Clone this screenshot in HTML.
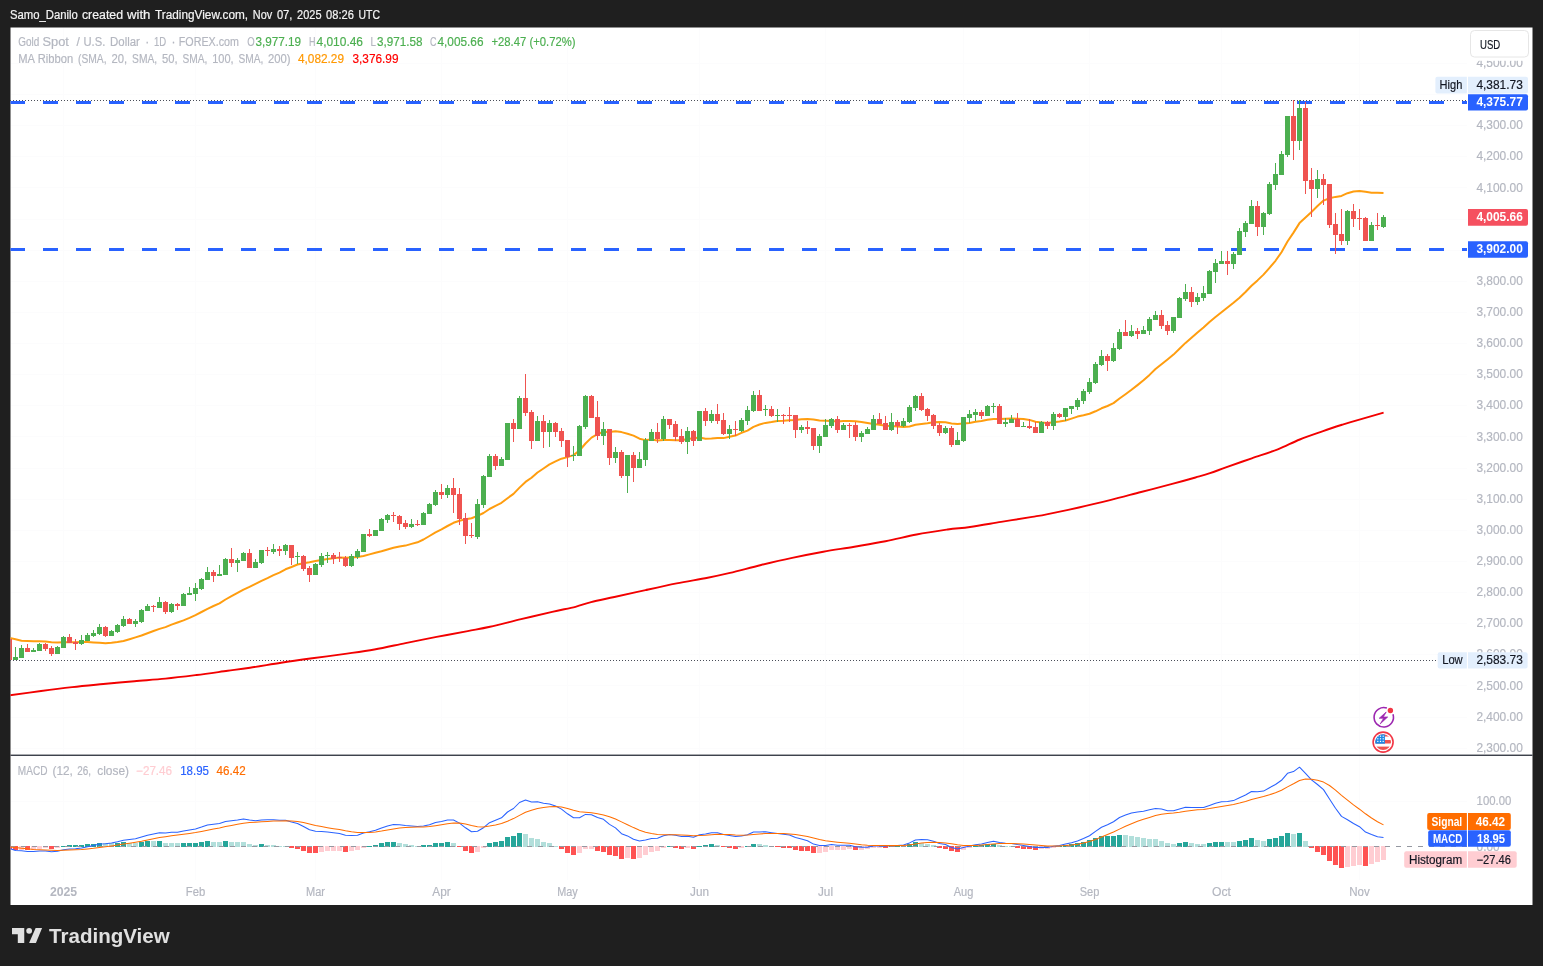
<!DOCTYPE html>
<html lang="en"><head><meta charset="utf-8"><title>XAUUSD chart</title>
<style>html,body{margin:0;padding:0;background:#1f1f1f;}body{width:1543px;height:966px;overflow:hidden}svg{display:block}</style></head>
<body>
<svg width="1543" height="966" viewBox="0 0 1543 966" font-family="'Liberation Sans', sans-serif">
<rect width="1543" height="966" fill="#1f1f1f"/>
<text y="19.3" font-size="12" fill="#f4f4f4" stroke="#f4f4f4" stroke-width="0.2"><tspan x="9.9" textLength="67.9" lengthAdjust="spacingAndGlyphs">Samo_Danilo</tspan> <tspan x="81.9" textLength="41.2" lengthAdjust="spacingAndGlyphs">created</tspan> <tspan x="127.0" textLength="23.4" lengthAdjust="spacingAndGlyphs">with</tspan> <tspan x="155.0" textLength="93.1" lengthAdjust="spacingAndGlyphs">TradingView.com,</tspan> <tspan x="252.8" textLength="19.4" lengthAdjust="spacingAndGlyphs">Nov</tspan> <tspan x="276.9" textLength="15.5" lengthAdjust="spacingAndGlyphs">07,</tspan> <tspan x="297.1" textLength="24.4" lengthAdjust="spacingAndGlyphs">2025</tspan> <tspan x="326.1" textLength="27.8" lengthAdjust="spacingAndGlyphs">08:26</tspan> <tspan x="358.5" textLength="21.5" lengthAdjust="spacingAndGlyphs">UTC</tspan></text>
<rect x="10.5" y="27.5" width="1522" height="877.5" fill="#ffffff"/>
<path d="M11 748.5H1467M11 717.5H1467M11 685.5H1467M11 654.5H1467M11 623.5H1467M11 592.5H1467M11 561.5H1467M11 530.5H1467M11 499.5H1467M11 468.5H1467M11 436.5H1467M11 405.5H1467M11 374.5H1467M11 343.5H1467M11 312.5H1467M11 281.5H1467M11 250.5H1467M11 219.5H1467M11 187.5H1467M11 156.5H1467M11 125.5H1467M11 94.5H1467M11 63.5H1467M11 801.5H1467M63.5 28V755M63.5 756V880M195.5 28V755M195.5 756V880M315.5 28V755M315.5 756V880M441.5 28V755M441.5 756V880M567.5 28V755M567.5 756V880M699.5 28V755M699.5 756V880M825.5 28V755M825.5 756V880M963.5 28V755M963.5 756V880M1089.5 28V755M1089.5 756V880M1221.5 28V755M1221.5 756V880M1359.5 28V755M1359.5 756V880" stroke="#fcfcfd" stroke-width="1" fill="none"/>
<defs><clipPath id="cm"><rect x="10.5" y="27.5" width="1456.5" height="727.5"/></clipPath><clipPath id="cd"><rect x="10.5" y="756" width="1456.5" height="124"/></clipPath></defs>
<path d="M10 100.5H1468M10 660.5H1437" stroke="#4a4e59" stroke-width="1" stroke-dasharray="1 2" fill="none"/>
<g clip-path="url(#cm)">
<path d="M10 102.5H1468M10 249.5H1468" stroke="#2962ff" stroke-width="3" stroke-dasharray="15 18" fill="none"/>
<path d="M9.5 638.0L15.5 639.2L21.5 640.7L27.5 640.9L33.5 641.2L39.5 641.2L45.5 641.5L51.5 642.2L57.5 642.4L63.5 642.2L69.5 642.3L75.5 642.3L81.5 642.1L87.5 642.0L93.5 642.4L99.5 642.8L105.5 643.2L111.5 642.7L117.5 642.0L123.5 641.0L129.5 639.2L135.5 637.4L141.5 635.5L147.5 633.2L153.5 631.0L159.5 628.9L165.5 627.1L171.5 624.6L177.5 622.5L183.5 620.4L189.5 617.9L195.5 615.1L201.5 612.0L207.5 608.9L213.5 606.0L219.5 603.4L225.5 599.5L231.5 596.1L237.5 592.9L243.5 589.6L249.5 586.8L255.5 583.8L261.5 580.8L267.5 578.1L273.5 575.2L279.5 572.6L285.5 569.3L291.5 567.0L297.5 564.5L303.5 563.2L309.5 562.3L315.5 561.1L321.5 559.9L327.5 559.1L333.5 558.2L339.5 557.4L345.5 557.8L351.5 557.4L357.5 557.0L363.5 556.0L369.5 554.4L375.5 552.8L381.5 551.3L387.5 549.5L393.5 547.8L399.5 546.5L405.5 545.6L411.5 543.9L417.5 542.3L423.5 539.5L429.5 536.0L435.5 532.4L441.5 529.3L447.5 526.0L453.5 522.8L459.5 520.8L465.5 519.3L471.5 518.3L477.5 515.9L483.5 513.0L489.5 509.0L495.5 505.8L501.5 502.8L507.5 498.2L513.5 493.9L519.5 487.6L525.5 481.9L531.5 477.7L537.5 472.5L543.5 468.5L549.5 464.4L555.5 461.4L561.5 458.7L567.5 457.1L573.5 455.1L579.5 450.5L585.5 443.5L591.5 437.6L597.5 434.2L603.5 431.8L609.5 431.9L615.5 431.3L621.5 432.1L627.5 433.7L633.5 435.6L639.5 438.7L645.5 440.1L651.5 439.6L657.5 440.5L663.5 439.9L669.5 440.0L675.5 440.3L681.5 440.3L687.5 439.0L693.5 438.3L699.5 437.5L705.5 438.8L711.5 438.6L717.5 437.9L723.5 438.1L729.5 436.7L735.5 435.6L741.5 432.8L747.5 430.6L753.5 426.9L759.5 424.5L765.5 422.9L771.5 422.1L777.5 420.9L783.5 420.8L789.5 420.3L795.5 420.0L801.5 419.2L807.5 419.1L813.5 419.4L819.5 420.6L825.5 420.8L831.5 421.1L837.5 421.5L843.5 421.1L849.5 420.9L855.5 421.3L861.5 421.9L867.5 422.9L873.5 424.1L879.5 424.7L885.5 425.8L891.5 426.1L897.5 426.6L903.5 426.9L909.5 426.5L915.5 424.8L921.5 423.9L927.5 423.3L933.5 422.2L939.5 422.1L945.5 422.2L951.5 423.5L957.5 424.0L963.5 423.6L969.5 423.0L975.5 421.8L981.5 420.9L987.5 419.8L993.5 419.1L999.5 419.1L1005.5 418.8L1011.5 418.6L1017.5 418.7L1023.5 418.9L1029.5 419.9L1035.5 421.8L1041.5 422.4L1047.5 422.9L1053.5 422.3L1059.5 421.5L1065.5 420.5L1071.5 418.6L1077.5 416.6L1083.5 415.3L1089.5 413.7L1095.5 411.3L1101.5 408.3L1107.5 406.0L1113.5 403.1L1119.5 398.5L1125.5 394.2L1131.5 389.8L1137.5 385.1L1143.5 380.3L1149.5 374.9L1155.5 369.0L1161.5 364.2L1167.5 359.5L1173.5 354.6L1179.5 348.7L1185.5 342.9L1191.5 337.7L1197.5 332.5L1203.5 327.6L1209.5 322.0L1215.5 317.0L1221.5 312.3L1227.5 307.4L1233.5 302.7L1239.5 297.7L1245.5 292.0L1251.5 285.8L1257.5 280.4L1263.5 274.6L1269.5 267.8L1275.5 260.8L1281.5 252.2L1287.5 241.5L1293.5 232.6L1299.5 223.1L1305.5 217.6L1311.5 211.9L1317.5 206.0L1323.5 200.6L1329.5 198.3L1335.5 196.9L1341.5 195.9L1347.5 193.2L1353.5 191.5L1359.5 190.9L1365.5 191.8L1371.5 192.7L1377.5 192.7L1383.5 192.9" stroke="#ff9d0f" stroke-width="2" fill="none" stroke-linejoin="round"/>
<path d="M9.5 695.4C14.8 694.7 30.6 692.4 41.1 691.0C51.6 689.6 61.8 688.3 72.2 687.1C82.6 685.9 92.9 685.0 103.3 684.0C113.7 683.0 124.0 682.1 134.4 681.2C144.8 680.3 155.1 679.6 165.5 678.6C175.9 677.6 186.2 676.3 196.6 675.0C207.0 673.7 218.8 672.0 227.7 670.8C236.6 669.6 241.1 669.1 250.0 667.7C258.9 666.4 270.7 664.3 281.1 662.7C291.5 661.1 301.8 659.7 312.2 658.3C322.6 656.9 332.9 655.6 343.3 654.1C353.7 652.6 364.0 651.3 374.4 649.5C384.8 647.7 395.1 645.2 405.5 643.1C415.9 641.0 426.2 638.9 436.6 636.9C447.0 634.9 458.8 632.8 467.7 631.1C476.6 629.4 481.1 628.8 490.0 626.8C498.9 624.8 510.7 621.7 521.1 619.2C531.5 616.7 543.1 614.0 552.2 611.9C561.3 609.8 569.0 608.4 575.5 606.8C582.0 605.2 584.6 603.7 591.1 602.1C597.6 600.5 605.3 599.0 614.4 597.0C623.5 595.0 635.1 592.4 645.5 590.1C655.9 587.8 666.2 585.5 676.6 583.4C687.0 581.3 698.8 579.5 707.7 577.7C716.6 576.0 721.1 575.0 730.0 572.9C738.9 570.8 750.7 567.5 761.1 565.0C771.5 562.5 781.8 560.1 792.2 557.9C802.6 555.7 812.9 553.7 823.3 551.8C833.7 549.9 844.0 548.5 854.4 546.7C864.8 544.9 875.1 543.2 885.5 541.2C895.9 539.2 906.2 536.5 916.6 534.5C927.0 532.5 938.8 530.8 947.7 529.5C956.6 528.2 961.1 528.3 970.0 527.0C978.9 525.7 990.7 523.6 1001.1 521.9C1011.5 520.2 1024.4 518.2 1032.2 516.9C1040.0 515.6 1040.0 515.7 1047.8 514.1C1055.6 512.5 1068.5 509.8 1078.9 507.5C1089.3 505.2 1099.6 502.7 1110.0 500.1C1120.4 497.5 1130.7 494.7 1141.1 492.0C1151.5 489.3 1163.1 486.3 1172.2 483.9C1181.3 481.5 1189.2 479.3 1195.5 477.5C1201.8 475.7 1204.9 474.9 1210.0 473.2C1215.1 471.5 1218.9 469.9 1225.9 467.4C1232.9 464.9 1243.2 461.3 1251.8 458.3C1260.4 455.3 1269.8 452.4 1277.8 449.3C1285.8 446.2 1292.2 442.5 1299.8 439.5C1307.3 436.5 1316.0 433.6 1323.1 431.1C1330.2 428.6 1336.1 426.7 1342.6 424.6C1349.1 422.6 1355.2 420.8 1362.0 418.8C1368.8 416.8 1380.0 413.6 1383.6 412.6" stroke="#f20000" stroke-width="1.9" fill="none"/>
<path d="M15.5 647V660M21.5 645V658M33.5 648V652M39.5 643V651M57.5 646V654M63.5 636V648M81.5 635V645M87.5 633V641M93.5 630V637M99.5 624V635M111.5 630V636M117.5 624V633M123.5 616V627M135.5 619V627M141.5 609V623M147.5 604V611M159.5 597V608M171.5 603V613M183.5 593V606M189.5 587V595M195.5 583V601M201.5 578V590M207.5 567V580M219.5 565V576M225.5 558V575M237.5 558V572M243.5 552V561M255.5 559V568M261.5 550V564M273.5 544V554M285.5 544V555M297.5 552V564M315.5 563V575M321.5 553V567M327.5 552V563M351.5 554V567M357.5 549V559M363.5 534V552M375.5 530V536M381.5 518V531M387.5 514V523M411.5 519V528M423.5 512V525M429.5 503V514M435.5 490V506M447.5 485V498M477.5 499V539M483.5 475V508M489.5 454V477M501.5 457V466M507.5 423V460M519.5 396V429M537.5 416V441M549.5 420V447M573.5 446V461M579.5 425V456M585.5 395V429M603.5 422V445M615.5 447V463M627.5 455V493M639.5 452V468M645.5 438V466M651.5 429V441M663.5 416V441M687.5 427V454M699.5 411V441M711.5 410V423M729.5 425V439M741.5 418V432M747.5 406V425M753.5 391V412M765.5 405V416M777.5 409V422M801.5 425V433M819.5 434V453M825.5 419V437M831.5 418V428M843.5 423V430M861.5 431V442M867.5 427V434M873.5 415V430M891.5 413V431M903.5 418V427M909.5 405V423M915.5 395V411M945.5 426V434M957.5 432V445M963.5 417V442M969.5 410V423M975.5 409V421M987.5 405V416M993.5 403V413M1005.5 418V427M1011.5 415V423M1023.5 422V427M1041.5 421V433M1053.5 412V430M1065.5 408V421M1071.5 406V414M1077.5 398V410M1083.5 389V404M1089.5 378V394M1095.5 362V384M1101.5 350V366M1113.5 343V362M1119.5 329V350M1131.5 325V337M1143.5 326V334M1149.5 317V335M1155.5 311V320M1173.5 317V333M1179.5 297V318M1185.5 284V301M1197.5 293V305M1203.5 286V301M1209.5 270V294M1215.5 259V283M1221.5 251V264M1233.5 252V269M1239.5 228V255M1245.5 221V237M1251.5 200V224M1263.5 212V235M1269.5 182V215M1275.5 163V190M1281.5 151V175M1287.5 116V157M1299.5 100V150M1317.5 170V198M1347.5 210V245M1371.5 222V241M1383.5 215V228" stroke="#4caf50" stroke-width="1" fill="none"/>
<path d="M9.5 639V660M27.5 644V652M45.5 643V651M51.5 646V656M69.5 634V643M75.5 639V650M105.5 626V637M129.5 618V624M153.5 605V612M165.5 601V614M177.5 603V610M213.5 570V582M231.5 548V567M249.5 549V568M267.5 547V556M279.5 546V556M291.5 545V565M303.5 555V571M309.5 566V582M333.5 553V564M339.5 552V562M345.5 556V567M369.5 529V537M393.5 512V522M399.5 515V530M405.5 520V529M417.5 520V526M441.5 484V499M453.5 478V513M459.5 488V525M465.5 513V544M471.5 523V538M495.5 454V470M513.5 419V442M525.5 374V416M531.5 410V449M543.5 415V448M555.5 422V437M561.5 428V447M567.5 440V467M591.5 395V418M597.5 401V440M609.5 429V465M621.5 450V478M633.5 452V482M657.5 423V443M669.5 419V429M675.5 421V441M681.5 429V444M693.5 430V446M705.5 408V426M717.5 404V424M723.5 413V435M735.5 421V436M759.5 390V411M771.5 406V417M783.5 414V424M789.5 407V422M795.5 415V438M807.5 421V434M813.5 428V450M837.5 416V433M849.5 423V438M855.5 422V441M879.5 413V424M885.5 416V430M897.5 420V434M921.5 393V411M927.5 408V421M933.5 414V429M939.5 423V436M951.5 426V447M981.5 410V419M999.5 404V424M1017.5 413V427M1029.5 419V429M1035.5 422V433M1047.5 421V429M1059.5 413V418M1107.5 354V371M1125.5 320V336M1137.5 328V339M1161.5 310V329M1167.5 321V335M1191.5 287V307M1227.5 251V275M1257.5 201V236M1293.5 100V160M1305.5 102V194M1311.5 168V217M1323.5 174V205M1329.5 184V228M1335.5 213V254M1341.5 209V245M1353.5 204V227M1359.5 209V230M1365.5 217V241M1377.5 213V230" stroke="#ef5350" stroke-width="1" fill="none"/>
<path d="M13.0 657h5V660h-5zM19.0 648h5V658h-5zM31.0 650h5V652h-5zM37.0 644h5V651h-5zM55.0 647h5V654h-5zM61.0 637h5V648h-5zM79.0 640h5V644h-5zM85.0 635h5V641h-5zM91.0 633h5V636h-5zM97.0 627h5V634h-5zM109.0 631h5V636h-5zM115.0 625h5V632h-5zM121.0 619h5V626h-5zM133.0 621h5V624h-5zM139.0 610h5V622h-5zM145.0 606h5V611h-5zM157.0 602h5V608h-5zM169.0 604h5V612h-5zM181.0 594h5V606h-5zM187.0 593h5V595h-5zM193.0 588h5V594h-5zM199.0 579h5V589h-5zM205.0 572h5V580h-5zM217.0 574h5V576h-5zM223.0 559h5V575h-5zM235.0 560h5V563h-5zM241.0 553h5V561h-5zM253.0 562h5V568h-5zM259.0 550h5V563h-5zM271.0 549h5V552h-5zM283.0 545h5V551h-5zM295.0 556h5V557h-5zM313.0 564h5V575h-5zM319.0 556h5V565h-5zM325.0 555h5V556h-5zM349.0 556h5V566h-5zM355.0 551h5V557h-5zM361.0 534h5V552h-5zM373.0 530h5V536h-5zM379.0 519h5V531h-5zM385.0 515h5V520h-5zM409.0 524h5V527h-5zM421.0 513h5V525h-5zM427.0 504h5V514h-5zM433.0 492h5V505h-5zM445.0 488h5V495h-5zM475.0 504h5V537h-5zM481.0 476h5V505h-5zM487.0 456h5V477h-5zM499.0 459h5V466h-5zM505.0 423h5V460h-5zM517.0 398h5V429h-5zM535.0 421h5V441h-5zM547.0 423h5V432h-5zM571.0 455h5V456h-5zM577.0 426h5V456h-5zM583.0 396h5V427h-5zM601.0 429h5V436h-5zM613.0 452h5V458h-5zM625.0 455h5V476h-5zM637.0 459h5V468h-5zM643.0 440h5V460h-5zM649.0 432h5V441h-5zM661.0 419h5V439h-5zM685.0 431h5V442h-5zM697.0 411h5V441h-5zM709.0 414h5V421h-5zM727.0 429h5V434h-5zM739.0 420h5V431h-5zM745.0 410h5V421h-5zM751.0 395h5V411h-5zM763.0 409h5V410h-5zM775.0 415h5V416h-5zM799.0 427h5V430h-5zM817.0 436h5V446h-5zM823.0 425h5V437h-5zM829.0 419h5V426h-5zM841.0 425h5V430h-5zM859.0 433h5V437h-5zM865.0 429h5V434h-5zM871.0 419h5V430h-5zM889.0 422h5V430h-5zM901.0 421h5V426h-5zM907.0 407h5V422h-5zM913.0 396h5V408h-5zM943.0 428h5V433h-5zM955.0 440h5V445h-5zM961.0 417h5V441h-5zM967.0 414h5V418h-5zM973.0 412h5V415h-5zM985.0 406h5V416h-5zM991.0 406h5V407h-5zM1003.0 422h5V424h-5zM1009.0 419h5V423h-5zM1021.0 426h5V427h-5zM1039.0 422h5V433h-5zM1051.0 414h5V426h-5zM1063.0 408h5V417h-5zM1069.0 406h5V409h-5zM1075.0 400h5V407h-5zM1081.0 391h5V401h-5zM1087.0 382h5V392h-5zM1093.0 364h5V383h-5zM1099.0 356h5V365h-5zM1111.0 348h5V361h-5zM1117.0 332h5V349h-5zM1129.0 331h5V336h-5zM1141.0 330h5V334h-5zM1147.0 319h5V331h-5zM1153.0 315h5V320h-5zM1171.0 317h5V331h-5zM1177.0 298h5V318h-5zM1183.0 292h5V299h-5zM1195.0 297h5V302h-5zM1201.0 293h5V298h-5zM1207.0 271h5V294h-5zM1213.0 263h5V272h-5zM1219.0 261h5V264h-5zM1231.0 254h5V264h-5zM1237.0 231h5V255h-5zM1243.0 223h5V232h-5zM1249.0 206h5V224h-5zM1261.0 213h5V227h-5zM1267.0 184h5V214h-5zM1273.0 174h5V185h-5zM1279.0 154h5V175h-5zM1285.0 116h5V155h-5zM1297.0 108h5V141h-5zM1315.0 179h5V189h-5zM1345.0 211h5V241h-5zM1369.0 225h5V241h-5zM1381.0 217h5V227h-5z" fill="#4caf50"/>
<path d="M7.0 639h5V660h-5zM25.0 648h5V652h-5zM43.0 644h5V649h-5zM49.0 648h5V654h-5zM67.0 637h5V643h-5zM73.0 642h5V644h-5zM103.0 627h5V636h-5zM127.0 619h5V624h-5zM151.0 606h5V607h-5zM163.0 602h5V612h-5zM175.0 604h5V606h-5zM211.0 572h5V576h-5zM229.0 559h5V563h-5zM247.0 553h5V568h-5zM265.0 550h5V551h-5zM277.0 549h5V551h-5zM289.0 545h5V558h-5zM301.0 556h5V569h-5zM307.0 568h5V575h-5zM331.0 555h5V559h-5zM337.0 557h5V558h-5zM343.0 558h5V566h-5zM367.0 534h5V536h-5zM391.0 515h5V516h-5zM397.0 516h5V524h-5zM403.0 523h5V527h-5zM415.0 524h5V525h-5zM439.0 492h5V495h-5zM451.0 488h5V495h-5zM457.0 494h5V519h-5zM463.0 518h5V536h-5zM469.0 535h5V536h-5zM493.0 456h5V466h-5zM511.0 423h5V429h-5zM523.0 398h5V413h-5zM529.0 412h5V441h-5zM541.0 421h5V432h-5zM553.0 423h5V432h-5zM559.0 431h5V441h-5zM565.0 440h5V457h-5zM589.0 396h5V418h-5zM595.0 417h5V436h-5zM607.0 429h5V458h-5zM619.0 452h5V476h-5zM631.0 455h5V468h-5zM655.0 432h5V439h-5zM667.0 419h5V425h-5zM673.0 424h5V437h-5zM679.0 436h5V442h-5zM691.0 431h5V441h-5zM703.0 411h5V421h-5zM715.0 414h5V421h-5zM721.0 420h5V434h-5zM733.0 429h5V430h-5zM757.0 395h5V411h-5zM769.0 409h5V416h-5zM781.0 415h5V416h-5zM787.0 415h5V416h-5zM793.0 415h5V430h-5zM805.0 427h5V429h-5zM811.0 428h5V446h-5zM835.0 419h5V430h-5zM847.0 425h5V426h-5zM853.0 425h5V437h-5zM877.0 419h5V424h-5zM883.0 423h5V430h-5zM895.0 422h5V426h-5zM919.0 396h5V410h-5zM925.0 409h5V416h-5zM931.0 415h5V426h-5zM937.0 425h5V433h-5zM949.0 428h5V445h-5zM979.0 412h5V416h-5zM997.0 406h5V424h-5zM1015.0 419h5V427h-5zM1027.0 426h5V428h-5zM1033.0 427h5V433h-5zM1045.0 422h5V426h-5zM1057.0 414h5V417h-5zM1105.0 356h5V361h-5zM1123.0 332h5V336h-5zM1135.0 331h5V334h-5zM1159.0 315h5V326h-5zM1165.0 325h5V331h-5zM1189.0 292h5V302h-5zM1225.0 261h5V264h-5zM1255.0 206h5V227h-5zM1291.0 116h5V141h-5zM1303.0 108h5V181h-5zM1309.0 180h5V189h-5zM1321.0 179h5V185h-5zM1327.0 184h5V225h-5zM1333.0 224h5V235h-5zM1339.0 234h5V241h-5zM1351.0 211h5V219h-5zM1357.0 218h5V219h-5zM1363.0 218h5V241h-5zM1375.0 225h5V226h-5z" fill="#ef5350"/>
</g>
<g clip-path="url(#cd)">
<path d="M61.0 846h5V847h-5zM67.0 845h5V847h-5zM73.0 845h5V847h-5zM79.0 845h5V847h-5zM85.0 844h5V847h-5zM91.0 844h5V847h-5zM97.0 843h5V847h-5zM115.0 843h5V847h-5zM121.0 842h5V847h-5zM139.0 842h5V847h-5zM145.0 841h5V847h-5zM157.0 841h5V847h-5zM181.0 843h5V847h-5zM187.0 843h5V847h-5zM193.0 843h5V847h-5zM199.0 842h5V847h-5zM205.0 841h5V847h-5zM223.0 841h5V847h-5zM259.0 844h5V847h-5zM367.0 846h5V847h-5zM373.0 845h5V847h-5zM379.0 843h5V847h-5zM385.0 842h5V847h-5zM391.0 842h5V847h-5zM421.0 845h5V847h-5zM427.0 845h5V847h-5zM433.0 843h5V847h-5zM439.0 843h5V847h-5zM445.0 842h5V847h-5zM487.0 843h5V847h-5zM493.0 842h5V847h-5zM499.0 841h5V847h-5zM505.0 837h5V847h-5zM511.0 836h5V847h-5zM517.0 833h5V847h-5zM667.0 846h5V847h-5zM697.0 846h5V847h-5zM703.0 845h5V847h-5zM709.0 844h5V847h-5zM745.0 846h5V847h-5zM751.0 844h5V847h-5zM889.0 846h5V847h-5zM895.0 846h5V847h-5zM901.0 846h5V847h-5zM907.0 844h5V847h-5zM913.0 842h5V847h-5zM973.0 846h5V847h-5zM979.0 845h5V847h-5zM985.0 844h5V847h-5zM991.0 844h5V847h-5zM1057.0 846h5V847h-5zM1063.0 845h5V847h-5zM1069.0 844h5V847h-5zM1075.0 843h5V847h-5zM1081.0 842h5V847h-5zM1087.0 840h5V847h-5zM1093.0 838h5V847h-5zM1099.0 836h5V847h-5zM1105.0 836h5V847h-5zM1111.0 836h5V847h-5zM1117.0 835h5V847h-5zM1177.0 843h5V847h-5zM1183.0 842h5V847h-5zM1207.0 843h5V847h-5zM1213.0 842h5V847h-5zM1219.0 842h5V847h-5zM1237.0 841h5V847h-5zM1243.0 840h5V847h-5zM1249.0 838h5V847h-5zM1267.0 839h5V847h-5zM1273.0 838h5V847h-5zM1279.0 836h5V847h-5zM1285.0 833h5V847h-5zM1297.0 833h5V847h-5z" fill="#26a69a"/>
<path d="M103.0 843h5V847h-5zM109.0 843h5V847h-5zM127.0 843h5V847h-5zM133.0 843h5V847h-5zM151.0 841h5V847h-5zM163.0 843h5V847h-5zM169.0 843h5V847h-5zM175.0 843h5V847h-5zM211.0 842h5V847h-5zM217.0 842h5V847h-5zM229.0 842h5V847h-5zM235.0 842h5V847h-5zM241.0 842h5V847h-5zM247.0 844h5V847h-5zM253.0 845h5V847h-5zM265.0 845h5V847h-5zM271.0 845h5V847h-5zM277.0 846h5V847h-5zM283.0 846h5V847h-5zM397.0 843h5V847h-5zM403.0 844h5V847h-5zM409.0 845h5V847h-5zM415.0 846h5V847h-5zM451.0 843h5V847h-5zM523.0 834h5V847h-5zM529.0 838h5V847h-5zM535.0 839h5V847h-5zM541.0 842h5V847h-5zM547.0 843h5V847h-5zM553.0 846h5V847h-5zM715.0 845h5V847h-5zM757.0 844h5V847h-5zM763.0 845h5V847h-5zM769.0 846h5V847h-5zM919.0 843h5V847h-5zM925.0 844h5V847h-5zM931.0 845h5V847h-5zM997.0 845h5V847h-5zM1003.0 846h5V847h-5zM1009.0 846h5V847h-5zM1123.0 835h5V847h-5zM1129.0 836h5V847h-5zM1135.0 837h5V847h-5zM1141.0 838h5V847h-5zM1147.0 839h5V847h-5zM1153.0 839h5V847h-5zM1159.0 841h5V847h-5zM1165.0 843h5V847h-5zM1171.0 844h5V847h-5zM1189.0 843h5V847h-5zM1195.0 844h5V847h-5zM1201.0 844h5V847h-5zM1225.0 842h5V847h-5zM1231.0 842h5V847h-5zM1255.0 840h5V847h-5zM1261.0 841h5V847h-5zM1291.0 834h5V847h-5zM1303.0 841h5V847h-5z" fill="#b2dfdb"/>
<path d="M7.0 846h5V849h-5zM13.0 846h5V850h-5zM25.0 846h5V850h-5zM49.0 846h5V849h-5zM289.0 846h5V848h-5zM295.0 846h5V849h-5zM301.0 846h5V851h-5zM307.0 846h5V853h-5zM313.0 846h5V853h-5zM343.0 846h5V852h-5zM457.0 846h5V847h-5zM463.0 846h5V851h-5zM469.0 846h5V853h-5zM559.0 846h5V849h-5zM565.0 846h5V853h-5zM571.0 846h5V855h-5zM595.0 846h5V851h-5zM601.0 846h5V852h-5zM607.0 846h5V855h-5zM613.0 846h5V856h-5zM619.0 846h5V859h-5zM631.0 846h5V859h-5zM673.0 846h5V848h-5zM679.0 846h5V849h-5zM691.0 846h5V849h-5zM721.0 846h5V847h-5zM727.0 846h5V848h-5zM733.0 846h5V849h-5zM775.0 846h5V847h-5zM781.0 846h5V848h-5zM787.0 846h5V848h-5zM793.0 846h5V850h-5zM799.0 846h5V851h-5zM805.0 846h5V851h-5zM811.0 846h5V853h-5zM853.0 846h5V850h-5zM883.0 846h5V848h-5zM937.0 846h5V848h-5zM943.0 846h5V849h-5zM949.0 846h5V851h-5zM955.0 846h5V852h-5zM1015.0 846h5V848h-5zM1021.0 846h5V849h-5zM1027.0 846h5V849h-5zM1033.0 846h5V850h-5zM1309.0 846h5V848h-5zM1315.0 846h5V852h-5zM1321.0 846h5V855h-5zM1327.0 846h5V861h-5zM1333.0 846h5V865h-5zM1339.0 846h5V868h-5zM1363.0 846h5V866h-5z" fill="#ff5252"/>
<path d="M19.0 846h5V850h-5zM31.0 846h5V850h-5zM37.0 846h5V849h-5zM43.0 846h5V848h-5zM55.0 846h5V848h-5zM319.0 846h5V852h-5zM325.0 846h5V851h-5zM331.0 846h5V851h-5zM337.0 846h5V851h-5zM349.0 846h5V851h-5zM355.0 846h5V850h-5zM361.0 846h5V848h-5zM475.0 846h5V852h-5zM481.0 846h5V848h-5zM577.0 846h5V853h-5zM583.0 846h5V849h-5zM589.0 846h5V849h-5zM625.0 846h5V858h-5zM637.0 846h5V858h-5zM643.0 846h5V855h-5zM649.0 846h5V852h-5zM655.0 846h5V851h-5zM661.0 846h5V848h-5zM685.0 846h5V848h-5zM739.0 846h5V848h-5zM817.0 846h5V853h-5zM823.0 846h5V852h-5zM829.0 846h5V850h-5zM835.0 846h5V850h-5zM841.0 846h5V850h-5zM847.0 846h5V849h-5zM859.0 846h5V850h-5zM865.0 846h5V849h-5zM871.0 846h5V848h-5zM877.0 846h5V848h-5zM961.0 846h5V850h-5zM967.0 846h5V848h-5zM1039.0 846h5V849h-5zM1045.0 846h5V849h-5zM1051.0 846h5V848h-5zM1345.0 846h5V867h-5zM1351.0 846h5V866h-5zM1357.0 846h5V865h-5zM1369.0 846h5V864h-5zM1375.0 846h5V862h-5zM1381.0 846h5V860h-5z" fill="#ffcdd2"/>
<path d="M10 846.5H1468" stroke="#9598a1" stroke-width="1" stroke-dasharray="5 6" fill="none"/>
<path d="M9.5 848.5L15.5 850.4L21.5 850.7L27.5 851.4L33.5 851.6L39.5 851.0L45.5 851.0L51.5 851.7L57.5 851.3L63.5 849.7L69.5 849.1L75.5 848.7L81.5 848.0L87.5 846.8L93.5 845.6L99.5 844.0L105.5 843.7L111.5 843.0L117.5 841.8L123.5 840.2L129.5 839.5L135.5 838.8L141.5 837.0L147.5 835.2L153.5 834.0L159.5 832.7L165.5 832.9L171.5 832.3L177.5 832.3L183.5 831.0L189.5 830.0L195.5 828.9L201.5 827.1L207.5 825.1L213.5 824.2L219.5 823.6L225.5 821.5L231.5 820.7L237.5 820.0L243.5 818.9L249.5 820.1L255.5 820.7L261.5 820.0L267.5 819.8L273.5 819.8L279.5 820.3L285.5 820.3L291.5 822.1L297.5 823.5L303.5 826.5L309.5 829.7L315.5 831.2L321.5 831.5L327.5 831.9L333.5 832.7L339.5 833.5L345.5 835.2L351.5 835.4L357.5 835.2L363.5 833.1L369.5 831.8L375.5 830.2L381.5 827.9L387.5 825.9L393.5 824.5L399.5 824.7L405.5 825.4L411.5 825.9L417.5 826.6L423.5 826.0L429.5 824.7L435.5 822.5L441.5 821.4L447.5 820.0L453.5 820.0L459.5 823.1L465.5 827.8L471.5 831.7L477.5 831.2L483.5 827.7L489.5 822.7L495.5 820.2L501.5 817.8L507.5 812.0L513.5 808.5L519.5 802.5L525.5 800.1L531.5 802.0L537.5 801.7L543.5 803.3L549.5 803.9L555.5 806.0L561.5 809.1L567.5 813.8L573.5 817.7L579.5 817.7L585.5 814.4L591.5 814.8L597.5 817.6L603.5 819.3L609.5 824.4L615.5 827.9L621.5 833.7L627.5 835.9L633.5 839.3L639.5 841.0L645.5 840.1L651.5 838.6L657.5 838.2L663.5 835.7L669.5 834.5L675.5 835.2L681.5 836.4L687.5 836.2L693.5 837.3L699.5 834.7L705.5 834.0L711.5 832.8L717.5 832.8L723.5 834.5L729.5 835.5L735.5 836.4L741.5 836.0L747.5 834.7L753.5 832.0L759.5 831.9L765.5 831.8L771.5 832.7L777.5 833.5L783.5 834.3L789.5 835.0L795.5 837.5L801.5 839.1L807.5 840.7L813.5 844.1L819.5 845.5L825.5 845.4L831.5 844.6L837.5 845.3L843.5 845.2L849.5 845.3L855.5 846.7L861.5 847.3L867.5 847.3L873.5 846.1L879.5 845.7L885.5 846.2L891.5 845.6L897.5 845.6L903.5 845.0L909.5 842.9L915.5 840.0L921.5 839.5L927.5 839.8L933.5 841.3L939.5 843.4L945.5 844.5L951.5 847.4L957.5 849.1L963.5 847.6L969.5 846.1L975.5 844.7L981.5 844.1L987.5 842.4L993.5 841.2L999.5 842.4L1005.5 843.2L1011.5 843.4L1017.5 844.6L1023.5 845.5L1029.5 846.4L1035.5 847.6L1041.5 847.3L1047.5 847.5L1053.5 846.3L1059.5 845.6L1065.5 844.1L1071.5 842.7L1077.5 840.9L1083.5 838.5L1089.5 835.7L1095.5 831.4L1101.5 827.3L1107.5 824.8L1113.5 821.7L1119.5 817.5L1125.5 815.1L1131.5 813.0L1137.5 812.0L1143.5 811.2L1149.5 809.7L1155.5 808.4L1161.5 809.1L1167.5 810.7L1173.5 810.7L1179.5 808.9L1185.5 807.2L1191.5 807.4L1197.5 807.5L1203.5 807.5L1209.5 805.4L1215.5 803.2L1221.5 801.8L1227.5 801.5L1233.5 800.6L1239.5 797.7L1245.5 795.0L1251.5 791.5L1257.5 791.8L1263.5 791.1L1269.5 787.7L1275.5 784.5L1281.5 780.3L1287.5 773.3L1293.5 771.6L1299.5 767.2L1305.5 773.3L1311.5 779.8L1317.5 784.5L1323.5 789.6L1329.5 799.0L1335.5 808.2L1341.5 816.4L1347.5 819.7L1353.5 823.5L1359.5 826.7L1365.5 832.1L1371.5 834.6L1377.5 836.8L1383.5 837.6" stroke="#2962ff" stroke-width="1.05" fill="none" stroke-linejoin="round"/>
<path d="M9.5 846.9L15.5 847.6L21.5 848.2L27.5 848.8L33.5 849.4L39.5 849.7L45.5 850.0L51.5 850.3L57.5 850.5L63.5 850.3L69.5 850.1L75.5 849.8L81.5 849.5L87.5 848.9L93.5 848.3L99.5 847.4L105.5 846.7L111.5 845.9L117.5 845.1L123.5 844.1L129.5 843.2L135.5 842.3L141.5 841.3L147.5 840.0L153.5 838.8L159.5 837.6L165.5 836.7L171.5 835.8L177.5 835.1L183.5 834.3L189.5 833.4L195.5 832.5L201.5 831.4L207.5 830.2L213.5 829.0L219.5 827.9L225.5 826.6L231.5 825.4L237.5 824.3L243.5 823.2L249.5 822.6L255.5 822.2L261.5 821.8L267.5 821.4L273.5 821.1L279.5 820.9L285.5 820.8L291.5 821.0L297.5 821.5L303.5 822.5L309.5 824.0L315.5 825.4L321.5 826.6L327.5 827.7L333.5 828.7L339.5 829.6L345.5 830.8L351.5 831.7L357.5 832.4L363.5 832.5L369.5 832.4L375.5 831.9L381.5 831.1L387.5 830.1L393.5 829.0L399.5 828.1L405.5 827.6L411.5 827.2L417.5 827.1L423.5 826.9L429.5 826.5L435.5 825.7L441.5 824.8L447.5 823.8L453.5 823.1L459.5 823.1L465.5 824.0L471.5 825.6L477.5 826.7L483.5 826.9L489.5 826.1L495.5 824.9L501.5 823.5L507.5 821.2L513.5 818.6L519.5 815.4L525.5 812.3L531.5 810.3L537.5 808.6L543.5 807.5L549.5 806.8L555.5 806.6L561.5 807.1L567.5 808.5L573.5 810.3L579.5 811.8L585.5 812.3L591.5 812.8L597.5 813.8L603.5 814.9L609.5 816.8L615.5 819.0L621.5 821.9L627.5 824.7L633.5 827.6L639.5 830.3L645.5 832.3L651.5 833.5L657.5 834.5L663.5 834.7L669.5 834.7L675.5 834.8L681.5 835.1L687.5 835.3L693.5 835.7L699.5 835.5L705.5 835.2L711.5 834.7L717.5 834.3L723.5 834.4L729.5 834.6L735.5 835.0L741.5 835.2L747.5 835.1L753.5 834.5L759.5 834.0L765.5 833.5L771.5 833.4L777.5 833.4L783.5 833.6L789.5 833.9L795.5 834.6L801.5 835.5L807.5 836.5L813.5 838.0L819.5 839.5L825.5 840.7L831.5 841.5L837.5 842.2L843.5 842.8L849.5 843.3L855.5 844.0L861.5 844.7L867.5 845.2L873.5 845.4L879.5 845.4L885.5 845.6L891.5 845.6L897.5 845.6L903.5 845.5L909.5 845.0L915.5 844.0L921.5 843.1L927.5 842.4L933.5 842.2L939.5 842.5L945.5 842.9L951.5 843.8L957.5 844.8L963.5 845.4L969.5 845.5L975.5 845.4L981.5 845.1L987.5 844.6L993.5 843.9L999.5 843.6L1005.5 843.5L1011.5 843.5L1017.5 843.7L1023.5 844.1L1029.5 844.5L1035.5 845.1L1041.5 845.6L1047.5 846.0L1053.5 846.0L1059.5 846.0L1065.5 845.6L1071.5 845.0L1077.5 844.2L1083.5 843.1L1089.5 841.6L1095.5 839.5L1101.5 837.1L1107.5 834.6L1113.5 832.0L1119.5 829.1L1125.5 826.3L1131.5 823.7L1137.5 821.3L1143.5 819.3L1149.5 817.4L1155.5 815.6L1161.5 814.3L1167.5 813.6L1173.5 813.0L1179.5 812.2L1185.5 811.2L1191.5 810.4L1197.5 809.8L1203.5 809.4L1209.5 808.6L1215.5 807.5L1221.5 806.4L1227.5 805.4L1233.5 804.4L1239.5 803.1L1245.5 801.5L1251.5 799.5L1257.5 798.0L1263.5 796.6L1269.5 794.8L1275.5 792.7L1281.5 790.3L1287.5 786.9L1293.5 783.8L1299.5 780.5L1305.5 779.0L1311.5 779.2L1317.5 780.3L1323.5 782.1L1329.5 785.5L1335.5 790.1L1341.5 795.3L1347.5 800.2L1353.5 804.9L1359.5 809.2L1365.5 813.8L1371.5 818.0L1377.5 821.7L1383.5 824.9" stroke="#ff6d00" stroke-width="1.05" fill="none" stroke-linejoin="round"/>
</g>
<rect x="10.5" y="754.6" width="1522" height="1.3" fill="#2a2e39"/>
<text x="1476.4" y="751.8" font-size="12" fill="#b4b7c0" textLength="46.4" lengthAdjust="spacingAndGlyphs" stroke="#b4b7c0" stroke-width="0.18">2,300.00</text>
<text x="1476.4" y="720.7" font-size="12" fill="#b4b7c0" textLength="46.4" lengthAdjust="spacingAndGlyphs" stroke="#b4b7c0" stroke-width="0.18">2,400.00</text>
<text x="1476.4" y="689.6" font-size="12" fill="#b4b7c0" textLength="46.4" lengthAdjust="spacingAndGlyphs" stroke="#b4b7c0" stroke-width="0.18">2,500.00</text>
<text x="1476.4" y="658.4" font-size="12" fill="#b4b7c0" textLength="46.4" lengthAdjust="spacingAndGlyphs" stroke="#b4b7c0" stroke-width="0.18">2,600.00</text>
<text x="1476.4" y="627.3" font-size="12" fill="#b4b7c0" textLength="46.4" lengthAdjust="spacingAndGlyphs" stroke="#b4b7c0" stroke-width="0.18">2,700.00</text>
<text x="1476.4" y="596.2" font-size="12" fill="#b4b7c0" textLength="46.4" lengthAdjust="spacingAndGlyphs" stroke="#b4b7c0" stroke-width="0.18">2,800.00</text>
<text x="1476.4" y="565.1" font-size="12" fill="#b4b7c0" textLength="46.4" lengthAdjust="spacingAndGlyphs" stroke="#b4b7c0" stroke-width="0.18">2,900.00</text>
<text x="1476.4" y="533.9" font-size="12" fill="#b4b7c0" textLength="46.4" lengthAdjust="spacingAndGlyphs" stroke="#b4b7c0" stroke-width="0.18">3,000.00</text>
<text x="1476.4" y="502.8" font-size="12" fill="#b4b7c0" textLength="46.4" lengthAdjust="spacingAndGlyphs" stroke="#b4b7c0" stroke-width="0.18">3,100.00</text>
<text x="1476.4" y="471.7" font-size="12" fill="#b4b7c0" textLength="46.4" lengthAdjust="spacingAndGlyphs" stroke="#b4b7c0" stroke-width="0.18">3,200.00</text>
<text x="1476.4" y="440.5" font-size="12" fill="#b4b7c0" textLength="46.4" lengthAdjust="spacingAndGlyphs" stroke="#b4b7c0" stroke-width="0.18">3,300.00</text>
<text x="1476.4" y="409.4" font-size="12" fill="#b4b7c0" textLength="46.4" lengthAdjust="spacingAndGlyphs" stroke="#b4b7c0" stroke-width="0.18">3,400.00</text>
<text x="1476.4" y="378.3" font-size="12" fill="#b4b7c0" textLength="46.4" lengthAdjust="spacingAndGlyphs" stroke="#b4b7c0" stroke-width="0.18">3,500.00</text>
<text x="1476.4" y="347.1" font-size="12" fill="#b4b7c0" textLength="46.4" lengthAdjust="spacingAndGlyphs" stroke="#b4b7c0" stroke-width="0.18">3,600.00</text>
<text x="1476.4" y="316.0" font-size="12" fill="#b4b7c0" textLength="46.4" lengthAdjust="spacingAndGlyphs" stroke="#b4b7c0" stroke-width="0.18">3,700.00</text>
<text x="1476.4" y="284.9" font-size="12" fill="#b4b7c0" textLength="46.4" lengthAdjust="spacingAndGlyphs" stroke="#b4b7c0" stroke-width="0.18">3,800.00</text>
<text x="1476.4" y="253.8" font-size="12" fill="#b4b7c0" textLength="46.4" lengthAdjust="spacingAndGlyphs" stroke="#b4b7c0" stroke-width="0.18">3,900.00</text>
<text x="1476.4" y="222.6" font-size="12" fill="#b4b7c0" textLength="46.4" lengthAdjust="spacingAndGlyphs" stroke="#b4b7c0" stroke-width="0.18">4,000.00</text>
<text x="1476.4" y="191.5" font-size="12" fill="#b4b7c0" textLength="46.4" lengthAdjust="spacingAndGlyphs" stroke="#b4b7c0" stroke-width="0.18">4,100.00</text>
<text x="1476.4" y="160.4" font-size="12" fill="#b4b7c0" textLength="46.4" lengthAdjust="spacingAndGlyphs" stroke="#b4b7c0" stroke-width="0.18">4,200.00</text>
<text x="1476.4" y="129.2" font-size="12" fill="#b4b7c0" textLength="46.4" lengthAdjust="spacingAndGlyphs" stroke="#b4b7c0" stroke-width="0.18">4,300.00</text>
<text x="1476.4" y="67.0" font-size="12" fill="#b4b7c0" textLength="46.4" lengthAdjust="spacingAndGlyphs" stroke="#b4b7c0" stroke-width="0.18">4,500.00</text>
<rect x="1468" y="28" width="64" height="32.8" fill="#ffffff"/>
<rect x="1470.5" y="30.5" width="58" height="26.5" rx="4" fill="#ffffff" stroke="#e6e6e6" stroke-width="1"/>
<text x="1480.0" y="48.6" font-size="12" fill="#131722" textLength="20.3" lengthAdjust="spacingAndGlyphs" stroke="#131722" stroke-width="0.18">USD</text>
<path d="M1437.4 76.8H1466.9V93.4H1437.4a2 2 0 0 1-2-2V78.8a2 2 0 0 1 2-2z" fill="#e3effd"/>
<path d="M1468 76.8H1526a2 2 0 0 1 2 2V91.4a2 2 0 0 1-2 2H1468z" fill="#e3effd"/>
<text x="1439.6" y="89.2" font-size="12" fill="#131722" textLength="22.7" lengthAdjust="spacingAndGlyphs" stroke="#131722" stroke-width="0.18">High</text>
<text x="1476.4" y="89.2" font-size="12" fill="#131722" textLength="46.4" lengthAdjust="spacingAndGlyphs" stroke="#131722" stroke-width="0.18">4,381.73</text>
<path d="M1468 94.2H1526a2 2 0 0 1 2 2V108.5a2 2 0 0 1-2 2H1468z" fill="#2962ff"/>
<text x="1476.4" y="105.8" font-size="12" font-weight="bold" fill="#ffffff" textLength="46.4" lengthAdjust="spacingAndGlyphs">4,375.77</text>
<path d="M1468 209.1H1526a2 2 0 0 1 2 2V223.7a2 2 0 0 1-2 2H1468z" fill="#f5505f"/>
<text x="1476.4" y="220.9" font-size="12" font-weight="bold" fill="#ffffff" textLength="46.4" lengthAdjust="spacingAndGlyphs">4,005.66</text>
<path d="M1468 241.2H1526a2 2 0 0 1 2 2V255.8a2 2 0 0 1-2 2H1468z" fill="#2962ff"/>
<text x="1476.4" y="253.0" font-size="12" font-weight="bold" fill="#ffffff" textLength="46.4" lengthAdjust="spacingAndGlyphs">3,902.00</text>
<path d="M1439.7 652.2H1466.9V668.4H1439.7a2 2 0 0 1-2-2V654.2a2 2 0 0 1 2-2z" fill="#e3effd"/>
<path d="M1468 652.2H1525.6a2 2 0 0 1 2 2V666.4a2 2 0 0 1-2 2H1468z" fill="#e3effd"/>
<text x="1442.2" y="664.4" font-size="12" fill="#131722" textLength="20.5" lengthAdjust="spacingAndGlyphs" stroke="#131722" stroke-width="0.18">Low</text>
<text x="1476.4" y="664.4" font-size="12" fill="#131722" textLength="46.4" lengthAdjust="spacingAndGlyphs" stroke="#131722" stroke-width="0.18">2,583.73</text>
<text x="1476.6" y="805.0" font-size="12" fill="#b4b7c0" textLength="34.7" lengthAdjust="spacingAndGlyphs" stroke="#b4b7c0" stroke-width="0.18">100.00</text>
<text x="1476.6" y="850.9" font-size="12" fill="#b4b7c0" textLength="23.0" lengthAdjust="spacingAndGlyphs" stroke="#b4b7c0" stroke-width="0.18">0.00</text>
<path d="M1429.2 813.1H1466.9V829.9H1429.2a2 2 0 0 1-2-2V815.1a2 2 0 0 1 2-2z" fill="#ff6d00"/>
<path d="M1468 813.1H1508.8a2 2 0 0 1 2 2V827.9a2 2 0 0 1-2 2H1468z" fill="#ff6d00"/>
<text x="1431.5" y="825.6" font-size="12" font-weight="bold" fill="#ffffff" textLength="30.7" lengthAdjust="spacingAndGlyphs">Signal</text>
<text x="1475.8" y="825.6" font-size="12" font-weight="bold" fill="#ffffff" textLength="29.3" lengthAdjust="spacingAndGlyphs">46.42</text>
<path d="M1430.2 830.2H1466.9V846.8H1430.2a2 2 0 0 1-2-2V832.2a2 2 0 0 1 2-2z" fill="#2962ff"/>
<path d="M1468 830.2H1508.8a2 2 0 0 1 2 2V844.8a2 2 0 0 1-2 2H1468z" fill="#2962ff"/>
<text x="1432.9" y="842.6" font-size="12" font-weight="bold" fill="#ffffff" textLength="29.5" lengthAdjust="spacingAndGlyphs">MACD</text>
<text x="1476.9" y="842.6" font-size="12" font-weight="bold" fill="#ffffff" textLength="28.2" lengthAdjust="spacingAndGlyphs">18.95</text>
<path d="M1406.2 851.2H1466.9V867.8H1406.2a2 2 0 0 1-2-2V853.2a2 2 0 0 1 2-2z" fill="#ffcdd2"/>
<path d="M1468 851.2H1514.7a2 2 0 0 1 2 2V865.8a2 2 0 0 1-2 2H1468z" fill="#ffcdd2"/>
<text x="1409.0" y="863.6" font-size="12" fill="#131722" textLength="53.2" lengthAdjust="spacingAndGlyphs" stroke="#131722" stroke-width="0.18">Histogram</text>
<text x="1476.6" y="863.6" font-size="12" fill="#131722" textLength="34.4" lengthAdjust="spacingAndGlyphs" stroke="#131722" stroke-width="0.18">−27.46</text>
<text y="46.3" font-size="12" fill="#b4b7c0" stroke="#b4b7c0" stroke-width="0.18"><tspan x="18.2" textLength="21.0" lengthAdjust="spacingAndGlyphs">Gold</tspan> <tspan x="42.5" textLength="26.4" lengthAdjust="spacingAndGlyphs">Spot</tspan> <tspan x="76.4">/</tspan> <tspan x="83.5" textLength="21.8" lengthAdjust="spacingAndGlyphs">U.S.</tspan> <tspan x="110.1" textLength="29.8" lengthAdjust="spacingAndGlyphs">Dollar</tspan> <tspan x="145.3">·</tspan> <tspan x="153.9" textLength="12.2" lengthAdjust="spacingAndGlyphs">1D</tspan> <tspan x="171.6">·</tspan> <tspan x="178.8" textLength="60.2" lengthAdjust="spacingAndGlyphs">FOREX.com</tspan></text>
<text x="247.2" y="46.3" font-size="12" fill="#b4b7c0" textLength="7.4" lengthAdjust="spacingAndGlyphs" stroke="#b4b7c0" stroke-width="0.18">O</text>
<text x="255.4" y="46.3" font-size="12" fill="#4caf50" textLength="45.6" lengthAdjust="spacingAndGlyphs" stroke="#4caf50" stroke-width="0.18">3,977.19</text>
<text x="309.0" y="46.3" font-size="12" fill="#b4b7c0" textLength="6.5" lengthAdjust="spacingAndGlyphs" stroke="#b4b7c0" stroke-width="0.18">H</text>
<text x="316.5" y="46.3" font-size="12" fill="#4caf50" textLength="46.5" lengthAdjust="spacingAndGlyphs" stroke="#4caf50" stroke-width="0.18">4,010.46</text>
<text x="370.5" y="46.3" font-size="12" fill="#b4b7c0" textLength="5.5" lengthAdjust="spacingAndGlyphs" stroke="#b4b7c0" stroke-width="0.18">L</text>
<text x="377.0" y="46.3" font-size="12" fill="#4caf50" textLength="45.5" lengthAdjust="spacingAndGlyphs" stroke="#4caf50" stroke-width="0.18">3,971.58</text>
<text x="430.0" y="46.3" font-size="12" fill="#b4b7c0" textLength="6.5" lengthAdjust="spacingAndGlyphs" stroke="#b4b7c0" stroke-width="0.18">C</text>
<text x="437.5" y="46.3" font-size="12" fill="#4caf50" textLength="46.0" lengthAdjust="spacingAndGlyphs" stroke="#4caf50" stroke-width="0.18">4,005.66</text>
<text x="491.5" y="46.3" font-size="12" fill="#4caf50" textLength="84.0" lengthAdjust="spacingAndGlyphs" stroke="#4caf50" stroke-width="0.18">+28.47 (+0.72%)</text>
<text y="63.2" font-size="12" fill="#b4b7c0" stroke="#b4b7c0" stroke-width="0.18"><tspan x="18.2" textLength="16.1" lengthAdjust="spacingAndGlyphs">MA</tspan> <tspan x="37.8" textLength="35.4" lengthAdjust="spacingAndGlyphs">Ribbon</tspan> <tspan x="78.0" textLength="28.6" lengthAdjust="spacingAndGlyphs">(SMA,</tspan> <tspan x="111.5" textLength="15.7" lengthAdjust="spacingAndGlyphs">20,</tspan> <tspan x="132.1" textLength="25.1" lengthAdjust="spacingAndGlyphs">SMA,</tspan> <tspan x="162.0" textLength="15.6" lengthAdjust="spacingAndGlyphs">50,</tspan> <tspan x="182.5" textLength="24.9" lengthAdjust="spacingAndGlyphs">SMA,</tspan> <tspan x="212.2" textLength="21.4" lengthAdjust="spacingAndGlyphs">100,</tspan> <tspan x="238.5" textLength="24.9" lengthAdjust="spacingAndGlyphs">SMA,</tspan> <tspan x="268.0" textLength="22.6" lengthAdjust="spacingAndGlyphs">200)</tspan></text>
<text x="298.0" y="63.2" font-size="12" fill="#ff9800" textLength="46.0" lengthAdjust="spacingAndGlyphs" stroke="#ff9800" stroke-width="0.18">4,082.29</text>
<text x="352.5" y="63.2" font-size="12" fill="#ff0000" textLength="46.0" lengthAdjust="spacingAndGlyphs" stroke="#ff0000" stroke-width="0.18">3,376.99</text>
<text y="775.1" font-size="12" fill="#b4b7c0" stroke="#b4b7c0" stroke-width="0.18"><tspan x="17.8" textLength="29.7" lengthAdjust="spacingAndGlyphs">MACD</tspan> <tspan x="52.5" textLength="20.4" lengthAdjust="spacingAndGlyphs">(12,</tspan> <tspan x="77.2" textLength="13.8" lengthAdjust="spacingAndGlyphs">26,</tspan> <tspan x="97.2" textLength="31.8" lengthAdjust="spacingAndGlyphs">close)</tspan></text>
<text x="136.1" y="775.1" font-size="12" fill="#ffcdd2" textLength="36.0" lengthAdjust="spacingAndGlyphs" stroke="#ffcdd2" stroke-width="0.18">−27.46</text>
<text x="180.2" y="775.1" font-size="12" fill="#2962ff" textLength="28.8" lengthAdjust="spacingAndGlyphs" stroke="#2962ff" stroke-width="0.18">18.95</text>
<text x="216.5" y="775.1" font-size="12" fill="#ff6d00" textLength="29.1" lengthAdjust="spacingAndGlyphs" stroke="#ff6d00" stroke-width="0.18">46.42</text>
<text x="49.9" y="896.1" font-size="12" font-weight="bold" fill="#b4b7c0" textLength="27.3" lengthAdjust="spacingAndGlyphs">2025</text>
<text x="185.8" y="896.1" font-size="12" fill="#b4b7c0" textLength="19.4" lengthAdjust="spacingAndGlyphs" stroke="#b4b7c0" stroke-width="0.18">Feb</text>
<text x="306.0" y="896.1" font-size="12" fill="#b4b7c0" textLength="19.0" lengthAdjust="spacingAndGlyphs" stroke="#b4b7c0" stroke-width="0.18">Mar</text>
<text x="432.3" y="896.1" font-size="12" fill="#b4b7c0" textLength="18.4" lengthAdjust="spacingAndGlyphs" stroke="#b4b7c0" stroke-width="0.18">Apr</text>
<text x="557.2" y="896.1" font-size="12" fill="#b4b7c0" textLength="20.5" lengthAdjust="spacingAndGlyphs" stroke="#b4b7c0" stroke-width="0.18">May</text>
<text x="690.0" y="896.1" font-size="12" fill="#b4b7c0" textLength="19.0" lengthAdjust="spacingAndGlyphs" stroke="#b4b7c0" stroke-width="0.18">Jun</text>
<text x="818.0" y="896.1" font-size="12" fill="#b4b7c0" textLength="15.0" lengthAdjust="spacingAndGlyphs" stroke="#b4b7c0" stroke-width="0.18">Jul</text>
<text x="953.7" y="896.1" font-size="12" fill="#b4b7c0" textLength="19.6" lengthAdjust="spacingAndGlyphs" stroke="#b4b7c0" stroke-width="0.18">Aug</text>
<text x="1079.7" y="896.1" font-size="12" fill="#b4b7c0" textLength="19.6" lengthAdjust="spacingAndGlyphs" stroke="#b4b7c0" stroke-width="0.18">Sep</text>
<text x="1212.0" y="896.1" font-size="12" fill="#b4b7c0" textLength="18.9" lengthAdjust="spacingAndGlyphs" stroke="#b4b7c0" stroke-width="0.18">Oct</text>
<text x="1349.2" y="896.1" font-size="12" fill="#b4b7c0" textLength="20.5" lengthAdjust="spacingAndGlyphs" stroke="#b4b7c0" stroke-width="0.18">Nov</text>
<g fill="none" stroke="#9c27b0" stroke-width="1.6"><path d="M1386.9 708.1A9.7 9.7 0 1 0 1393 714.3"/></g>
<path d="M1386.2 712l-7 6.3h4.4l-3.4 5.6 7.5-6.9h-4.4z" fill="#9c27b0" stroke="#9c27b0" stroke-width="0.7" stroke-linejoin="round"/>
<circle cx="1390.4" cy="710.5" r="2.7" fill="#f23645"/>
<circle cx="1383.1" cy="742.1" r="10" fill="#fff" stroke="#f23645" stroke-width="1.6"/>
<defs><clipPath id="fc"><circle cx="1383.1" cy="742.1" r="7.9"/></clipPath></defs>
<g clip-path="url(#fc)"><rect x="1375" y="734" width="17" height="17" fill="#fff"/><rect x="1375" y="734.2" width="17" height="2.3" fill="#ef5350"/><rect x="1375" y="740" width="17" height="3.5" fill="#ef5350"/><rect x="1375" y="746.6" width="17" height="3.6" fill="#ef5350"/><rect x="1375" y="734" width="9.9" height="9.7" fill="#1e88e5"/><rect x="1377.2" y="735.6" width="1.2" height="1.2" fill="#fff"/><rect x="1377.2" y="738.2" width="1.2" height="1.2" fill="#fff"/><rect x="1377.2" y="740.8" width="1.2" height="1.2" fill="#fff"/><rect x="1379.9" y="735.6" width="1.2" height="1.2" fill="#fff"/><rect x="1379.9" y="738.2" width="1.2" height="1.2" fill="#fff"/><rect x="1379.9" y="740.8" width="1.2" height="1.2" fill="#fff"/><rect x="1382.6" y="735.6" width="1.2" height="1.2" fill="#fff"/><rect x="1382.6" y="738.2" width="1.2" height="1.2" fill="#fff"/><rect x="1382.6" y="740.8" width="1.2" height="1.2" fill="#fff"/></g>
<path d="M12 928.1H24.25V943H17.8V934.2H12z" fill="#e0e0e0"/><circle cx="29.15" cy="930.8" r="2.9" fill="#e0e0e0"/><path d="M35.6 928.1H42.1L35.9 943H29.1z" fill="#e0e0e0"/>
<text x="49.1" y="943" font-size="20.5" font-weight="bold" fill="#e0e0e0" textLength="120.6" lengthAdjust="spacingAndGlyphs">TradingView</text>
</svg>
</body></html>
